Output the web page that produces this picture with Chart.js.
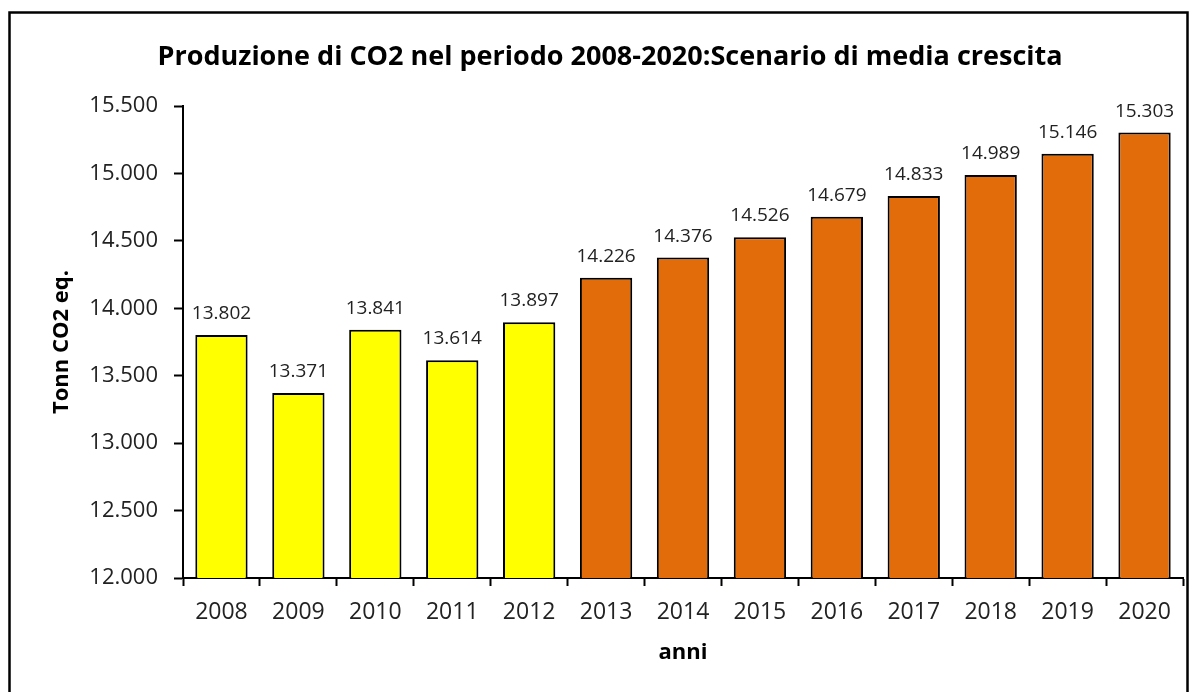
<!DOCTYPE html>
<html>
<head>
<meta charset="utf-8">
<script src="https://cdn.jsdelivr.net/npm/chart.js@4.4.1/dist/chart.umd.min.js"></script>
<style>
  html, body { margin: 0; padding: 0; background: #fff; }
  #wrap { position: relative; width: 1197px; height: 692px; }
</style>
</head>
<body>
<div id="wrap"><canvas id="c" width="1197" height="692"></canvas></div>
<script>
// Anni dello scenario e produzione di CO2 (tonnellate CO2 eq.)
const anni = ['2008','2009','2010','2011','2012','2013','2014','2015','2016','2017','2018','2019','2020'];
const produzione = [13802, 13371, 13841, 13614, 13897, 14226, 14376, 14526, 14679, 14833, 14989, 15146, 15303];
// Dati storici (fino al 2012) in giallo, previsioni in arancione
const storico = [true, true, true, true, true, false, false, false, false, false, false, false, false];
const yTicks = [12000, 12500, 13000, 13500, 14000, 14500, 15000, 15500];
const titolo = 'Produzione di CO2 nel periodo 2008-2020:Scenario di media crescita';

const GIALLO = '#FFFF00';
const ARANCIO = '#E36C0A';

// Formato italiano con il punto come separatore delle migliaia
function fmt(v) {
  return String(Math.round(v)).replace(/\B(?=(\d{3})+(?!\d))/g, '.');
}

// Etichette dei valori sopra le barre
const valueLabels = {
  id: 'valueLabels',
  afterDatasetsDraw(chart) {
    const ctx = chart.ctx;
    const meta = chart.getDatasetMeta(0);
    ctx.save();
    ctx.font = '19px "Open Sans", sans-serif';
    ctx.fillStyle = '#222';
    ctx.textAlign = 'center';
    ctx.textBaseline = 'alphabetic';
    meta.data.forEach((bar, i) => {
      ctx.fillText(fmt(produzione[i]), bar.x, bar.y - 16);
    });
    ctx.restore();
  }
};

// Titolo e cornice del grafico
const frame = {
  id: 'frame',
  afterDraw(chart) {
    const ctx = chart.ctx;
    ctx.save();
    ctx.font = 'bold 27px "Open Sans", sans-serif';
    ctx.fillStyle = '#000';
    ctx.textAlign = 'center';
    ctx.textBaseline = 'middle';
    ctx.fillText(titolo, 610, 57);
    ctx.strokeStyle = '#000';
    ctx.lineWidth = 2.5;
    ctx.strokeRect(9.5, 12.5, 1178, 700);
    ctx.restore();
  }
};

new Chart(document.getElementById('c'), {
  type: 'bar',
  data: {
    labels: anni,
    datasets: [{
      data: produzione,
      backgroundColor: storico.map(s => s ? GIALLO : ARANCIO),
      borderColor: '#000',
      borderWidth: 2,
      borderSkipped: 'bottom',
      barPercentage: 0.68,
      categoryPercentage: 1.0
    }]
  },
  options: {
    responsive: false,
    animation: false,
    devicePixelRatio: 1,
    layout: { padding: { left: 10, right: 14, top: 106, bottom: 0 } },
    plugins: {
      legend: { display: false },
      tooltip: { enabled: false },
      title: { display: false }
    },
    scales: {
      x: {
        grid: {
          display: true,
          drawOnChartArea: false,
          drawTicks: true,
          tickLength: 8,
          tickColor: '#000',
          tickWidth: 2,
          offset: true
        },
        border: { color: '#000', width: 2 },
        ticks: {
          color: '#222',
          font: { family: '"Open Sans", sans-serif', size: 23 },
          padding: 13,
          maxRotation: 0
        },
        title: {
          display: true,
          text: 'anni',
          color: '#000',
          font: { family: '"Open Sans", sans-serif', size: 22, weight: 'bold' },
          padding: { top: 0, bottom: 26 }
        },
        afterFit(scale) { scale.height = 114; }
      },
      y: {
        min: 12000,
        max: 15500,
        afterBuildTicks(scale) { scale.ticks = yTicks.map(v => ({ value: v })); },
        grid: {
          display: true,
          drawOnChartArea: false,
          drawTicks: true,
          tickLength: 9,
          tickColor: '#000',
          tickWidth: 2
        },
        border: { color: '#000', width: 2 },
        ticks: {
          color: '#222',
          font: { family: '"Open Sans", sans-serif', size: 22 },
          padding: 16,
          callback: (v) => fmt(v)
        },
        title: {
          display: true,
          text: 'Tonn CO2 eq.',
          color: '#000',
          font: { family: '"Open Sans", sans-serif', size: 22, weight: 'bold' },
          padding: { top: 39, bottom: 0 }
        },
        afterFit(scale) { scale.width = 173; }
      }
    }
  },
  plugins: [valueLabels, frame]
});
</script>
</body>
</html>
